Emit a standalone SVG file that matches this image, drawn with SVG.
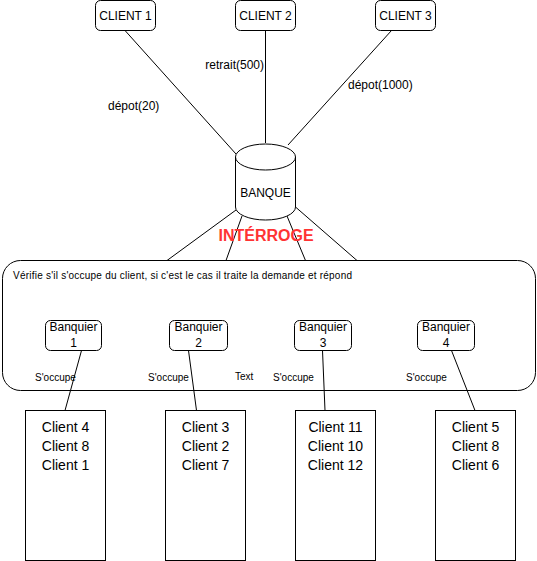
<svg xmlns="http://www.w3.org/2000/svg" width="537" height="561" viewBox="0 0 537 561">
<style>
text{font-family:"Liberation Sans",Arial,sans-serif;fill:#000}
.n{fill:#fff;stroke:#000;stroke-width:1}
.l{stroke:#000;stroke-width:1;fill:none}
.t12{font-size:12px}
.t14{font-size:14px}
.s{font-size:10px}
.c{text-anchor:middle}
</style>
<rect width="537" height="561" fill="#fff"/>
<g id="connectors">
<line class="l" x1="125" y1="30.5" x2="236" y2="154"/>
<line class="l" x1="265.5" y1="30.5" x2="265.5" y2="143"/>
<line class="l" x1="391.5" y1="30.5" x2="288" y2="145"/>
<line class="l" x1="236" y1="210" x2="167" y2="260.5"/>
<line class="l" x1="242" y1="216" x2="226" y2="260.5"/>
<line class="l" x1="287" y1="216" x2="305.5" y2="260.5"/>
<line class="l" x1="295.5" y1="207" x2="357" y2="260.5"/>
<line class="l" x1="81.5" y1="350.5" x2="65" y2="410.5"/>
<line class="l" x1="188.5" y1="350.5" x2="196.5" y2="410.5"/>
<line class="l" x1="322.5" y1="350.5" x2="325" y2="410.5"/>
<line class="l" x1="451.5" y1="350.5" x2="475" y2="410.5"/>
<text class="t12" x="108" y="110">dépot(20)</text>
<text class="t12" x="264" y="69" text-anchor="end">retrait(500)</text>
<text class="t12" x="348" y="89">dépot(1000)</text>
<text class="s" x="35" y="381">S'occupe</text>
<text class="s" x="148" y="381">S'occupe</text>
<text class="s" x="235" y="380">Text</text>
<text class="s" x="273" y="381">S'occupe</text>
<text class="s" x="406" y="381">S'occupe</text>
</g>
<g id="client1"><rect class="n" x="95.5" y="0.5" width="60" height="30" rx="5"/><text class="t12 c" x="125.5" y="20">CLIENT 1</text></g>
<g id="client2"><rect class="n" x="235.5" y="0.5" width="60" height="30" rx="5"/><text class="t12 c" x="265.5" y="20">CLIENT 2</text></g>
<g id="client3"><rect class="n" x="375.5" y="0.5" width="60" height="30" rx="5"/><text class="t12 c" x="405.5" y="20">CLIENT 3</text></g>
<g id="banque">
<path class="n" d="M235.5,157 A30,13 0 0 1 295.5,157 L295.5,207 A30,13 0 0 1 235.5,207 Z"/>
<path class="l" d="M235.5,157 A30,13 0 0 0 295.5,157"/>
<text class="t12 c" x="265.5" y="197">BANQUE</text>
</g>
<g id="interroge"><text x="266" y="241" class="c" style="font-size:16px;font-weight:bold;fill:#ff3333">INTÉRROGE</text></g>
<g id="banquiers">
<rect class="l" x="2.5" y="260.5" width="533" height="130" rx="18"/>
<text class="s" x="13" y="279" textLength="339" lengthAdjust="spacing">Vérifie s'il s'occupe du client, si c'est le cas il traite la demande et répond</text>
</g>
<g id="banquier1"><rect class="n" x="45.5" y="320.5" width="56" height="30" rx="5"/><text class="t12 c" x="73.5" y="331">Banquier</text><text class="t12 c" x="73.5" y="347">1</text></g>
<g id="banquier2"><rect class="n" x="169.5" y="320.5" width="58" height="30" rx="5"/><text class="t12 c" x="198.5" y="331">Banquier</text><text class="t12 c" x="198.5" y="347">2</text></g>
<g id="banquier3"><rect class="n" x="294.5" y="320.5" width="57" height="30" rx="5"/><text class="t12 c" x="323" y="331">Banquier</text><text class="t12 c" x="323" y="347">3</text></g>
<g id="banquier4"><rect class="n" x="417.5" y="320.5" width="57" height="30" rx="5"/><text class="t12 c" x="446" y="331">Banquier</text><text class="t12 c" x="446" y="347">4</text></g>
<g id="liste1"><rect class="n" x="25.5" y="410.5" width="80" height="150"/><text class="t14 c" x="65.5" y="432">Client 4</text><text class="t14 c" x="65.5" y="451">Client 8</text><text class="t14 c" x="65.5" y="470">Client 1</text></g>
<g id="liste2"><rect class="n" x="165.5" y="410.5" width="80" height="150"/><text class="t14 c" x="205.5" y="432">Client 3</text><text class="t14 c" x="205.5" y="451">Client 2</text><text class="t14 c" x="205.5" y="470">Client 7</text></g>
<g id="liste3"><rect class="n" x="295.5" y="410.5" width="80" height="150"/><text class="t14 c" x="335.5" y="432">Client 11</text><text class="t14 c" x="335.5" y="451">Client 10</text><text class="t14 c" x="335.5" y="470">Client 12</text></g>
<g id="liste4"><rect class="n" x="435.5" y="410.5" width="80" height="150"/><text class="t14 c" x="475.5" y="432">Client 5</text><text class="t14 c" x="475.5" y="451">Client 8</text><text class="t14 c" x="475.5" y="470">Client 6</text></g>
</svg>
